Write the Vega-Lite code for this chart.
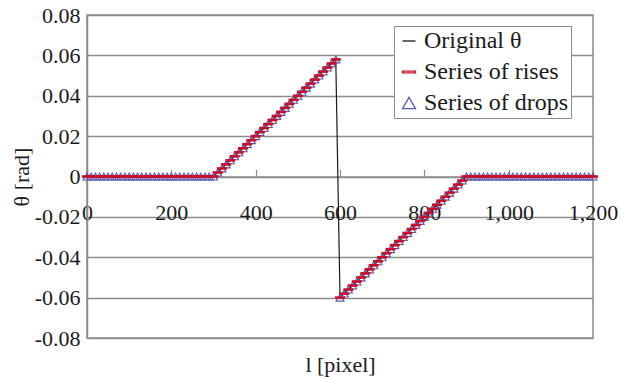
{
"$schema":"https://vega.github.io/schema/vega-lite/v6.json",
"width":506,"height":323,"autosize":"none",
"padding":{"left":87,"top":15,"right":37,"bottom":41},
"config":{"font":"Liberation Serif","view":{"stroke":"#8c8c8c","strokeWidth":1.5},
"axis":{"labelFont":"Liberation Serif","titleFont":"Liberation Serif","labelColor":"#1a1a1a","titleColor":"#1a1a1a","titleFontWeight":"normal","labelFontSize":22,"titleFontSize":22},
"legend":{"labelFont":"Liberation Serif"}},
"data":{"values":[
{"l":0,"t":0},{"l":10,"t":0},{"l":20,"t":0},{"l":30,"t":0},{"l":40,"t":0},{"l":50,"t":0},{"l":60,"t":0},{"l":70,"t":0},{"l":80,"t":0},{"l":90,"t":0},
{"l":100,"t":0},{"l":110,"t":0},{"l":120,"t":0},{"l":130,"t":0},{"l":140,"t":0},{"l":150,"t":0},{"l":160,"t":0},{"l":170,"t":0},{"l":180,"t":0},{"l":190,"t":0},
{"l":200,"t":0},{"l":210,"t":0},{"l":220,"t":0},{"l":230,"t":0},{"l":240,"t":0},{"l":250,"t":0},{"l":260,"t":0},{"l":270,"t":0},{"l":280,"t":0},{"l":290,"t":0},
{"l":300,"t":0},{"l":310,"t":0.002},{"l":320,"t":0.004},{"l":330,"t":0.006},{"l":340,"t":0.008},{"l":350,"t":0.01},{"l":360,"t":0.012},{"l":370,"t":0.014},{"l":380,"t":0.016},{"l":390,"t":0.018},
{"l":400,"t":0.02},{"l":410,"t":0.022},{"l":420,"t":0.024},{"l":430,"t":0.026},{"l":440,"t":0.028},{"l":450,"t":0.03},{"l":460,"t":0.032},{"l":470,"t":0.034},{"l":480,"t":0.036},{"l":490,"t":0.038},
{"l":500,"t":0.04},{"l":510,"t":0.042},{"l":520,"t":0.044},{"l":530,"t":0.046},{"l":540,"t":0.048},{"l":550,"t":0.05},{"l":560,"t":0.052},{"l":570,"t":0.054},{"l":580,"t":0.056},{"l":590,"t":0.058},
{"l":600,"t":-0.06},{"l":610,"t":-0.058},{"l":620,"t":-0.056},{"l":630,"t":-0.054},{"l":640,"t":-0.052},{"l":650,"t":-0.05},{"l":660,"t":-0.048},{"l":670,"t":-0.046},{"l":680,"t":-0.044},{"l":690,"t":-0.042},
{"l":700,"t":-0.04},{"l":710,"t":-0.038},{"l":720,"t":-0.036},{"l":730,"t":-0.034},{"l":740,"t":-0.032},{"l":750,"t":-0.03},{"l":760,"t":-0.028},{"l":770,"t":-0.026},{"l":780,"t":-0.024},{"l":790,"t":-0.022},
{"l":800,"t":-0.02},{"l":810,"t":-0.018},{"l":820,"t":-0.016},{"l":830,"t":-0.014},{"l":840,"t":-0.012},{"l":850,"t":-0.01},{"l":860,"t":-0.008},{"l":870,"t":-0.006},{"l":880,"t":-0.004},{"l":890,"t":-0.002},
{"l":900,"t":0},{"l":910,"t":0},{"l":920,"t":0},{"l":930,"t":0},{"l":940,"t":0},{"l":950,"t":0},{"l":960,"t":0},{"l":970,"t":0},{"l":980,"t":0},{"l":990,"t":0},
{"l":1000,"t":0},{"l":1010,"t":0},{"l":1020,"t":0},{"l":1030,"t":0},{"l":1040,"t":0},{"l":1050,"t":0},{"l":1060,"t":0},{"l":1070,"t":0},{"l":1080,"t":0},{"l":1090,"t":0},
{"l":1100,"t":0},{"l":1110,"t":0},{"l":1120,"t":0},{"l":1130,"t":0},{"l":1140,"t":0},{"l":1150,"t":0},{"l":1160,"t":0},{"l":1170,"t":0},{"l":1180,"t":0},{"l":1190,"t":0},
{"l":1200,"t":0}
]},
"encoding":{
"x":{"field":"l","type":"quantitative","scale":{"domain":[0,1200],"nice":false,"zero":false},
"axis":{"values":[0,200,400,600,800,1000,1200],"labelExpr":"format(datum.value, ',')","offset":-161.5,"grid":false,"domainColor":"#8c8c8c","domainWidth":1.5,"tickSize":-7,"tickColor":"#8c8c8c","tickWidth":1.2,"labelPadding":33,"labelFlush":false,"labelOverlap":false,"title":"l [pixel]","titlePadding":131}},
"y":{"field":"t","type":"quantitative","scale":{"domain":[-0.08,0.08],"nice":false,"zero":false},
"axis":{"values":[-0.08,-0.06,-0.04,-0.02,0,0.02,0.04,0.06,0.08],"labelExpr":"datum.value == 0 ? '0' : (datum.value < 0 ? '-' : '') + format(abs(datum.value), '.2f')","grid":true,"gridColor":"#8c8c8c","gridWidth":1.5,"domainColor":"#8c8c8c","domainWidth":1.5,"ticks":false,"labelPadding":7,"title":"θ [rad]","titlePadding":1}}
},
"layer":[
{"mark":{"type":"line","strokeWidth":1.2},
 "encoding":{"color":{"datum":"Original θ","type":"nominal","scale":{"domain":["Original θ","Series of rises","Series of drops"],"range":["#1a1a1a","#c8102e","#5b5bb0"]},
 "legend":{"orient":"none","legendX":307,"legendY":11,"title":null,"strokeColor":"#8c8c8c","fillColor":"white","padding":3,"labelFontSize":24,"labelColor":"#1a1a1a","rowPadding":7,"symbolSize":170,"symbolStrokeWidth":1.3,"symbolFillColor":"transparent","labelOffset":3}}}},
{"mark":{"type":"point","filled":false,"size":64,"strokeWidth":1.1,"opacity":1},
 "encoding":{"color":{"datum":"Series of drops","type":"nominal"},
 "shape":{"datum":"Series of drops","type":"nominal","scale":{"domain":["Original θ","Series of rises","Series of drops"],"range":["stroke","M-1,-0.12H1V0.12H-1Z","triangle-up"]}}}},
{"mark":{"type":"point","filled":false,"size":72,"strokeWidth":1.6,"opacity":1},
 "encoding":{"color":{"datum":"Series of rises","type":"nominal"},
 "shape":{"datum":"Series of rises","type":"nominal"}}}
]
}
